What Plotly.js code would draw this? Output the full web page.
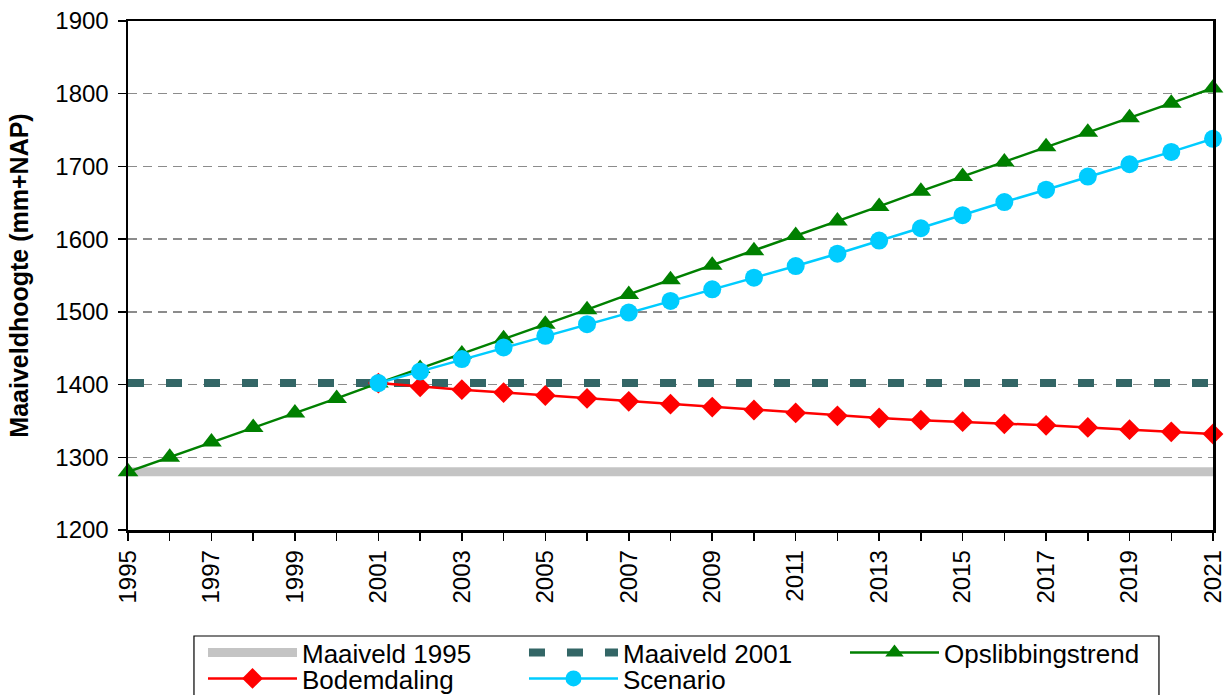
<!DOCTYPE html>
<html>
<head>
<meta charset="utf-8">
<script src="https://cdn.plot.ly/plotly-3.0.1.min.js"></script>
<style>
  html, body { margin: 0; padding: 0; background: #ffffff; }
  #chart { width: 1231px; height: 695px; }
</style>
</head>
<body>
<div id="chart"></div>
<script>
// Jaren op de x-as
const years = [1995, 1996, 1997, 1998, 1999, 2000, 2001, 2002, 2003, 2004, 2005, 2006, 2007,
               2008, 2009, 2010, 2011, 2012, 2013, 2014, 2015, 2016, 2017, 2018, 2019, 2020, 2021];
const yearLabels = ['1995', '', '1997', '', '1999', '', '2001', '', '2003', '', '2005', '', '2007',
                    '', '2009', '', '2011', '', '2013', '', '2015', '', '2017', '', '2019', '', '2021'];

// Referentieniveaus (mm+NAP)
const refYears = [1995, 2021];
const maaiveld1995 = [1280, 1280];
const maaiveld2001 = [1402, 1402];

// Opslibbingstrend 1995-2021
const opslibbingstrend = [1280, 1300, 1321, 1341, 1361, 1381, 1402, 1422, 1442, 1463, 1483, 1503, 1524,
                          1544, 1564, 1584, 1605, 1625, 1645, 1666, 1686, 1706, 1727, 1747, 1767, 1787, 1808];

// Bodemdaling en scenario vanaf 2001
const yearsFrom2001 = [2001, 2002, 2003, 2004, 2005, 2006, 2007, 2008, 2009, 2010, 2011,
                       2012, 2013, 2014, 2015, 2016, 2017, 2018, 2019, 2020, 2021];
const bodemdaling = [1402, 1397, 1393, 1389, 1385, 1381, 1377, 1373, 1369, 1365, 1361,
                     1357, 1354, 1351, 1349, 1346, 1344, 1341, 1338, 1335, 1332];
const scenario = [1402, 1418, 1435, 1451, 1467, 1483, 1499, 1515, 1531, 1547, 1563,
                  1580, 1598, 1615, 1633, 1651, 1668, 1686, 1703, 1720, 1738];

const FONT = 'Arial, "Liberation Sans", sans-serif';

const traces = [
  {
    name: 'Maaiveld 1995', x: refYears, y: maaiveld1995, mode: 'lines',
    line: { color: '#c4c4c4', width: 9 }, legend: 'legend'
  },
  {
    name: 'Maaiveld 2001', x: refYears, y: maaiveld2001, mode: 'lines',
    line: { color: '#336666', width: 8, dash: '16px,22px' }, legend: 'legend'
  },
  {
    name: 'Opslibbingstrend', x: years, y: opslibbingstrend, mode: 'lines+markers',
    line: { color: '#008000', width: 2.5 },
    marker: { symbol: 'triangle-up', size: 18, color: '#008000' },
    cliponaxis: false, legend: 'legend'
  },
  {
    name: 'Bodemdaling', x: yearsFrom2001, y: bodemdaling, mode: 'lines+markers',
    line: { color: '#ff0000', width: 2.5 },
    marker: { symbol: 'diamond', size: 16, color: '#ff0000' },
    cliponaxis: false, legend: 'legend2'
  },
  {
    name: 'Scenario', x: yearsFrom2001, y: scenario, mode: 'lines+markers',
    line: { color: '#00ccff', width: 2.5 },
    marker: { symbol: 'circle', size: 18, color: '#00ccff' },
    cliponaxis: false, legend: 'legend2'
  }
];

// Twee legendarijen, samen in een kader onder de grafiek
const legendCommon = {
  orientation: 'h', xref: 'container', yref: 'container',
  xanchor: 'left', yanchor: 'top',
  entrywidth: 217, entrywidthmode: 'pixels', itemwidth: 89,
  bgcolor: 'rgba(0,0,0,0)', borderwidth: 0,
  font: { family: FONT, size: 26, color: '#000000' },
  traceorder: 'normal'
};

const layout = {
  width: 1231, height: 695,
  margin: { l: 128, r: 18, t: 21, b: 165 },
  paper_bgcolor: '#ffffff', plot_bgcolor: '#ffffff',
  font: { family: FONT, color: '#000000' },
  showlegend: true,
  xaxis: {
    range: [1995, 2021],
    tickvals: years, ticktext: yearLabels,
    tickangle: -90,
    tickfont: { family: FONT, size: 24, color: '#000000' },
    ticks: 'outside', ticklen: 8, tickwidth: 1.5, tickcolor: '#000000',
    showline: true, linecolor: '#000000', linewidth: 2.5, mirror: true,
    showgrid: false, zeroline: false, fixedrange: true
  },
  yaxis: {
    range: [1200, 1900], tick0: 1200, dtick: 100,
    tickfont: { family: FONT, size: 24, color: '#000000' },
    ticks: 'outside', ticklen: 8, tickwidth: 1.5, tickcolor: '#000000',
    ticklabelstandoff: 4,
    showline: true, linecolor: '#000000', linewidth: 2.5, mirror: true,
    showgrid: true, gridcolor: '#8c8c8c', gridwidth: 1.3, griddash: '9px,6px',
    zeroline: false, fixedrange: true,
    title: {
      text: '<b>Maaiveldhoogte (mm+NAP)</b>',
      font: { family: FONT, size: 25, color: '#000000' },
      standoff: 20
    }
  },
  legend: Object.assign({}, legendCommon, { x: 0.1649, y: 0.0949 }),
  legend2: Object.assign({}, legendCommon, { x: 0.1649, y: 0.0575 }),
  shapes: [
    {
      type: 'rect', xref: 'paper', yref: 'paper',
      x0: 0.0608, x1: 0.9502, y0: -0.2083, y1: -0.40,
      line: { color: '#000000', width: 1.2 }, fillcolor: 'rgba(0,0,0,0)'
    }
  ]
};

Plotly.newPlot('chart', traces, layout, { displayModeBar: false, staticPlot: true });
</script>
</body>
</html>
